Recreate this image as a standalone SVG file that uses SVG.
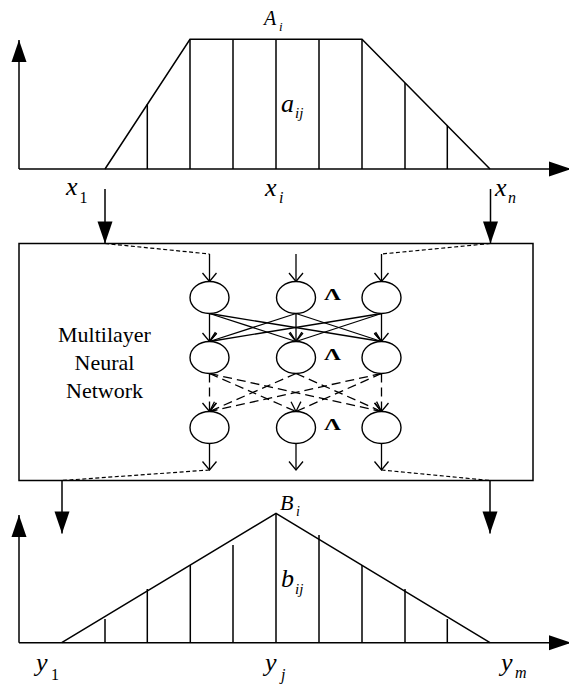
<svg xmlns="http://www.w3.org/2000/svg" width="569" height="685" viewBox="0 0 569 685">
<style>
.ln{stroke:#000;stroke-width:1.5;fill:none}
.nl{stroke:#000;stroke-width:1.3;fill:none}
.dsh{stroke:#000;stroke-width:1.2;fill:none;stroke-dasharray:4 2.5}
.dl{stroke:#000;stroke-width:1.3;fill:none;stroke-dasharray:9 5}
.nd{stroke:#000;stroke-width:1.4;fill:#fff}
text{font-family:'Liberation Serif','DejaVu Serif',serif;fill:#000}
.v{font-style:italic}
.lam{font-weight:bold;font-size:17px}
</style>
<defs>
<marker id="fa" markerUnits="userSpaceOnUse" orient="auto" markerWidth="24" markerHeight="18" refX="0" refY="0" viewBox="-23 -9 24 18" overflow="visible">
<path d="M0,0 L-22,-7.5 L-22,7.5 Z" fill="#000"/>
</marker>
<marker id="va" markerUnits="userSpaceOnUse" orient="auto" markerWidth="12" markerHeight="16" refX="0" refY="0" viewBox="-10 -8 12 16" overflow="visible">
<path d="M-8.5,-7 L0,0 L-8.5,7" fill="none" stroke="#000" stroke-width="1.3"/>
</marker>
</defs>

<g id="top-plot">
<line class="ln" x1="19" y1="169" x2="19" y2="40" marker-end="url(#fa)"/>
<line class="ln" x1="19" y1="169" x2="571" y2="169" marker-end="url(#fa)"/>
<polyline class="ln" points="105,169 190,39.3 362,39.3 490,169"/>
<line class="ln" x1="147.3" y1="169" x2="147.3" y2="104.3"/>
<line class="ln" x1="190" y1="169" x2="190" y2="39.3"/>
<line class="ln" x1="233" y1="169" x2="233" y2="39.3"/>
<line class="ln" x1="276" y1="169" x2="276" y2="39.3"/>
<line class="ln" x1="319" y1="169" x2="319" y2="39.3"/>
<line class="ln" x1="362" y1="169" x2="362" y2="39.3"/>
<line class="ln" x1="405" y1="169" x2="405" y2="83"/>
<line class="ln" x1="447.3" y1="169" x2="447.3" y2="125.5"/>
<text class="v" x="264" y="25" font-size="20">A</text>
<text class="v" x="279" y="31" font-size="13">i</text>
<text class="v" x="281" y="112" font-size="26">a</text>
<text class="v" x="295" y="118" font-size="15">ij</text>
<text class="v" x="66" y="195" font-size="26">x</text>
<text x="79.5" y="203" font-size="16">1</text>
<text class="v" x="265" y="196" font-size="26">x</text>
<text class="v" x="279" y="203" font-size="16">i</text>
<text class="v" x="495" y="196" font-size="26">x</text>
<text class="v" x="508" y="203" font-size="16">n</text>
</g>

<g id="network-box">
<rect class="ln" x="19" y="243.5" width="514" height="237"/>
<text font-size="22" text-anchor="middle" x="104.5" y="341.7">Multilayer</text>
<text font-size="22" text-anchor="middle" x="104.5" y="370">Neural</text>
<text font-size="22" text-anchor="middle" x="104.5" y="398.3">Network</text>
</g>

<g id="connectors">
<line class="ln" x1="105" y1="189" x2="105" y2="243.5" marker-end="url(#fa)"/>
<line class="ln" x1="490.5" y1="189" x2="490.5" y2="243.5" marker-end="url(#fa)"/>
<line class="dsh" x1="105" y1="243.5" x2="209.5" y2="254"/>
<line class="dsh" x1="490.5" y1="243.5" x2="381.5" y2="254"/>
<line class="nl" x1="209.5" y1="254" x2="209.5" y2="281.5" marker-end="url(#va)"/>
<line class="nl" x1="296" y1="254" x2="296" y2="281.5" marker-end="url(#va)"/>
<line class="nl" x1="381.5" y1="254" x2="381.5" y2="281.5" marker-end="url(#va)"/>
<line class="nl" x1="209.5" y1="313.5" x2="209.5" y2="341.5" marker-end="url(#va)"/>
<line class="nl" x1="209.5" y1="313.5" x2="296" y2="341.5" marker-end="url(#va)"/>
<line class="nl" x1="209.5" y1="313.5" x2="381.5" y2="341.5" marker-end="url(#va)"/>
<line class="nl" x1="296" y1="313.5" x2="209.5" y2="341.5" marker-end="url(#va)"/>
<line class="nl" x1="296" y1="313.5" x2="296" y2="341.5" marker-end="url(#va)"/>
<line class="nl" x1="296" y1="313.5" x2="381.5" y2="341.5" marker-end="url(#va)"/>
<line class="nl" x1="381.5" y1="313.5" x2="209.5" y2="341.5" marker-end="url(#va)"/>
<line class="nl" x1="381.5" y1="313.5" x2="296" y2="341.5" marker-end="url(#va)"/>
<line class="nl" x1="381.5" y1="313.5" x2="381.5" y2="341.5" marker-end="url(#va)"/>
<line class="dl" x1="209.5" y1="373.5" x2="209.5" y2="411.5" marker-end="url(#va)"/>
<line class="dl" x1="209.5" y1="373.5" x2="296" y2="411.5" marker-end="url(#va)"/>
<line class="dl" x1="209.5" y1="373.5" x2="381.5" y2="411.5" marker-end="url(#va)"/>
<line class="dl" x1="296" y1="373.5" x2="209.5" y2="411.5" marker-end="url(#va)"/>
<line class="dl" x1="296" y1="373.5" x2="381.5" y2="411.5" marker-end="url(#va)"/>
<line class="dl" x1="381.5" y1="373.5" x2="209.5" y2="411.5" marker-end="url(#va)"/>
<line class="dl" x1="381.5" y1="373.5" x2="296" y2="411.5" marker-end="url(#va)"/>
<line class="dl" x1="381.5" y1="373.5" x2="381.5" y2="411.5" marker-end="url(#va)"/>
<line class="nl" x1="209.5" y1="443.5" x2="209.5" y2="470" marker-end="url(#va)"/>
<line class="nl" x1="296" y1="443.5" x2="296" y2="470" marker-end="url(#va)"/>
<line class="nl" x1="381.5" y1="443.5" x2="381.5" y2="470" marker-end="url(#va)"/>
<line class="dsh" x1="209.5" y1="470" x2="62" y2="480.5"/>
<line class="dsh" x1="381.5" y1="470" x2="490" y2="480.5"/>
<line class="ln" x1="62" y1="480.5" x2="62" y2="533.5" marker-end="url(#fa)"/>
<line class="ln" x1="490" y1="480.5" x2="490" y2="533.5" marker-end="url(#fa)"/>
</g>

<g id="n11"><ellipse class="nd" cx="209.5" cy="297.5" rx="19.5" ry="16"/></g>
<g id="n12"><ellipse class="nd" cx="296" cy="297.5" rx="19.5" ry="16"/><text class="lam" x="324" y="300" textLength="17" lengthAdjust="spacingAndGlyphs">Λ</text></g>
<g id="n13"><ellipse class="nd" cx="381.5" cy="297.5" rx="19.5" ry="16"/></g>
<g id="n21"><ellipse class="nd" cx="209.5" cy="357.5" rx="19.5" ry="16"/></g>
<g id="n22"><ellipse class="nd" cx="296" cy="357.5" rx="19.5" ry="16"/><text class="lam" x="324" y="360" textLength="17" lengthAdjust="spacingAndGlyphs">Λ</text></g>
<g id="n23"><ellipse class="nd" cx="381.5" cy="357.5" rx="19.5" ry="16"/></g>
<g id="n31"><ellipse class="nd" cx="209.5" cy="427.5" rx="19.5" ry="16"/></g>
<g id="n32"><ellipse class="nd" cx="296" cy="427.5" rx="19.5" ry="16"/><text class="lam" x="324" y="429.5" textLength="17" lengthAdjust="spacingAndGlyphs">Λ</text></g>
<g id="n33"><ellipse class="nd" cx="381.5" cy="427.5" rx="19.5" ry="16"/></g>

<g id="bottom-plot">
<line class="ln" x1="19" y1="642.7" x2="19" y2="515" marker-end="url(#fa)"/>
<line class="ln" x1="19" y1="642.7" x2="571" y2="642.7" marker-end="url(#fa)"/>
<polyline class="ln" points="61.7,642.7 276,513.3 490,642.7"/>
<line class="ln" x1="105" y1="642.7" x2="105" y2="619"/>
<line class="ln" x1="147.3" y1="642.7" x2="147.3" y2="589"/>
<line class="ln" x1="190.3" y1="642.7" x2="190.3" y2="565"/>
<line class="ln" x1="233" y1="642.7" x2="233" y2="545"/>
<line class="ln" x1="276" y1="642.7" x2="276" y2="513.3"/>
<line class="ln" x1="319" y1="642.7" x2="319" y2="535"/>
<line class="ln" x1="362" y1="642.7" x2="362" y2="565"/>
<line class="ln" x1="405" y1="642.7" x2="405" y2="589"/>
<line class="ln" x1="447.3" y1="642.7" x2="447.3" y2="619"/>
<text class="v" x="280" y="510" font-size="22">B</text>
<text class="v" x="296" y="516" font-size="14">i</text>
<text class="v" x="281" y="587" font-size="26">b</text>
<text class="v" x="295" y="594" font-size="15">ij</text>
<text class="v" x="36" y="671" font-size="26">y</text>
<text x="51" y="680" font-size="16">1</text>
<text class="v" x="265" y="671" font-size="26">y</text>
<text class="v" x="281" y="680" font-size="16">j</text>
<text class="v" x="501" y="671" font-size="26">y</text>
<text class="v" x="515" y="678" font-size="16">m</text>
</g>
</svg>
